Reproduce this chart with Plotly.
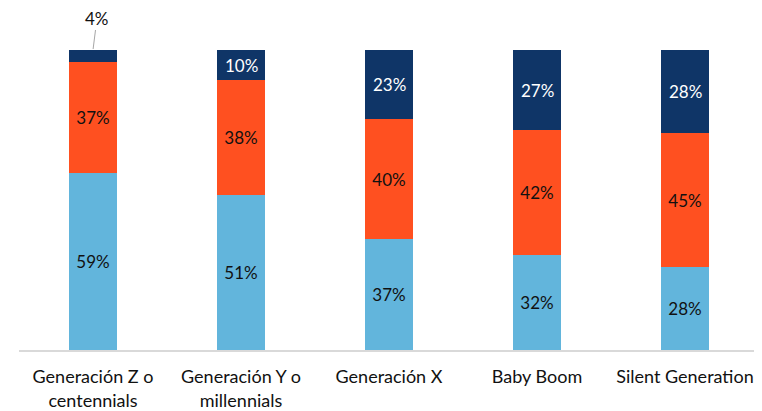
import plotly.graph_objects as go

categories = ["Generación Z o<br>centennials", "Generación Y o<br>millennials",
              "Generación X", "Baby Boom", "Silent Generation"]
bottom_vals = [59, 51, 37, 32, 28]
middle_vals = [37, 38, 40, 42, 45]
top_vals = [4, 10, 23, 27, 28]

c_bottom = "#62B5DC"
c_middle = "#FF5020"
c_top = "#0F3567"
font_family = "Lato, Open Sans, sans-serif"
fs = 17

fig = go.Figure()
fig.add_bar(x=categories, y=bottom_vals, marker_color=c_bottom,
            text=[f"{v}%" for v in bottom_vals], textposition="inside",
            insidetextanchor="middle", textfont=dict(color="#111111", size=fs))
fig.add_bar(x=categories, y=middle_vals, marker_color=c_middle,
            text=[f"{v}%" for v in middle_vals], textposition="inside",
            insidetextanchor="middle", textfont=dict(color="#111111", size=fs))
fig.add_bar(x=categories, y=top_vals, marker_color=c_top,
            textposition="none")

fig.update_traces(marker_line_width=0, cliponaxis=False, constraintext="none")

# top-segment labels as annotations (positions derived from the data)
for i, cat in enumerate(categories):
    total = bottom_vals[i] + middle_vals[i] + top_vals[i]
    if i == 0:
        fig.add_annotation(x=cat, y=100, xref="x", yref="y",
                           text=f"{top_vals[i]}%", showarrow=True, arrowhead=0,
                           arrowwidth=1, arrowcolor="#A6A6A6", ax=4, ay=-32,
                           standoff=1, font=dict(size=fs, color="#111111"))
    else:
        ymid = (bottom_vals[i] + middle_vals[i] + top_vals[i] / 2) / total * 100
        fig.add_annotation(x=cat, y=ymid, xref="x", yref="y",
                           text=f"{top_vals[i]}%", showarrow=False,
                           font=dict(size=fs, color="white"))

fig.update_layout(
    barmode="stack", barnorm="percent", bargap=0.67,
    width=762, height=411,
    margin=dict(l=11, r=11, t=42, b=69, autoexpand=False),
    plot_bgcolor="white", paper_bgcolor="white",
    showlegend=False,
    font=dict(family=font_family, size=fs, color="#111111"),
)
fig.update_xaxes(showline=True, linecolor="#D9D9D9", linewidth=1.5,
                 ticks="outside", ticklen=10, tickcolor="rgba(0,0,0,0)",
                 automargin=False, tickfont=dict(size=18, color="#111111"))
fig.update_yaxes(visible=False, range=[0, 100])

fig.write_html("out.html")
